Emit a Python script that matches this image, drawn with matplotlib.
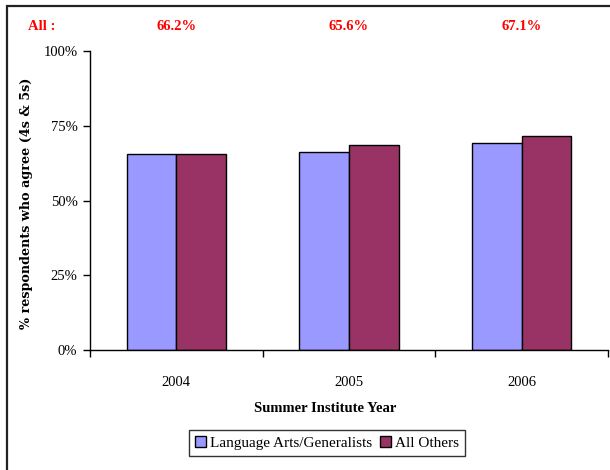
import matplotlib
matplotlib.use("Agg")
import matplotlib.pyplot as plt
import matplotlib.transforms as mtransforms
from matplotlib.patches import Rectangle
import numpy as np

years = ["2004", "2005", "2006"]
language_arts = [65.5, 66.2, 69.3]
all_others = [65.5, 68.4, 71.7]
overall_labels = ["66.2%", "65.6%", "67.1%"]
series_names = ["Language Arts/Generalists", "All Others"]
yticks = [0, 25, 50, 75, 100]

serif = ["Liberation Serif", "DejaVu Serif"]
plt.rcParams["font.family"] = serif

fig = plt.figure(figsize=(6.1, 4.7), dpi=100)
ax = fig.add_axes([90 / 610, 1 - 350 / 470, (608 - 90) / 610, (350 - 51) / 470])

x = np.arange(len(years))
w = 0.287
ax.bar(x - w / 2, language_arts, width=w, color="#9999ff", edgecolor="black", linewidth=1.0,
       label=series_names[0])
ax.bar(x + w / 2, all_others, width=w, color="#993366", edgecolor="black", linewidth=1.0,
       label=series_names[1])

ax.set_xlim(-0.5, len(years) - 0.5)
ax.set_ylim(0, 100)
ax.set_yticks(yticks)
ax.set_yticklabels([f"{v}%" for v in yticks], fontsize=10.5)
ax.set_xticks(x)
ax.set_xticklabels(years, fontsize=10.5)
ax.set_xticks(np.arange(len(years) + 1) - 0.5, minor=True)
ax.tick_params(axis="x", which="major", length=0, pad=19)
ax.tick_params(axis="x", which="minor", length=5, direction="out", width=1)
ax.tick_params(axis="y", length=5, direction="out", width=1, pad=4)

for s in ["top", "right"]:
    ax.spines[s].set_visible(False)
for s in ["left", "bottom"]:
    ax.spines[s].set_linewidth(1.0)

fig.text(27 / 610, 1 - 203 / 470, "% respondents who agree (4s & 5s)", rotation=90,
         ha="center", va="center", fontsize=9.2, fontweight="bold", family=["DejaVu Serif"])

fig.text(325 / 610, 1 - 409 / 470, "Summer Institute Year", ha="center", va="center",
         fontsize=10.5, fontweight="bold")

# overall agreement per year, along the top
trans = mtransforms.blended_transform_factory(ax.transData, fig.transFigure)
for xi, lab in zip(x, overall_labels):
    ax.text(xi, 1 - 27 / 470, lab, transform=trans, ha="center", va="center",
            color="#ff0000", fontsize=10.5, fontweight="bold")
fig.text(42 / 610, 1 - 27 / 470, "All :", ha="center", va="center",
         color="#ff0000", fontsize=10.5, fontweight="bold")

leg = fig.legend(loc="center", bbox_to_anchor=(327 / 610, 1 - 443 / 470), ncol=2,
                 frameon=True, fancybox=False, fontsize=11, handlelength=0.7,
                 handleheight=0.7, handletextpad=0.3, columnspacing=0.5,
                 borderpad=0.4, borderaxespad=0)
leg.get_frame().set_edgecolor("black")
leg.get_frame().set_linewidth(1.0)

# chart area border
fig.add_artist(Rectangle((7 / 610, -0.5), 2.0, 0.5 + (1 - 6 / 470), transform=fig.transFigure,
                         fill=False, edgecolor="#222222", linewidth=1.6))

fig.savefig("out.png", dpi=100)
